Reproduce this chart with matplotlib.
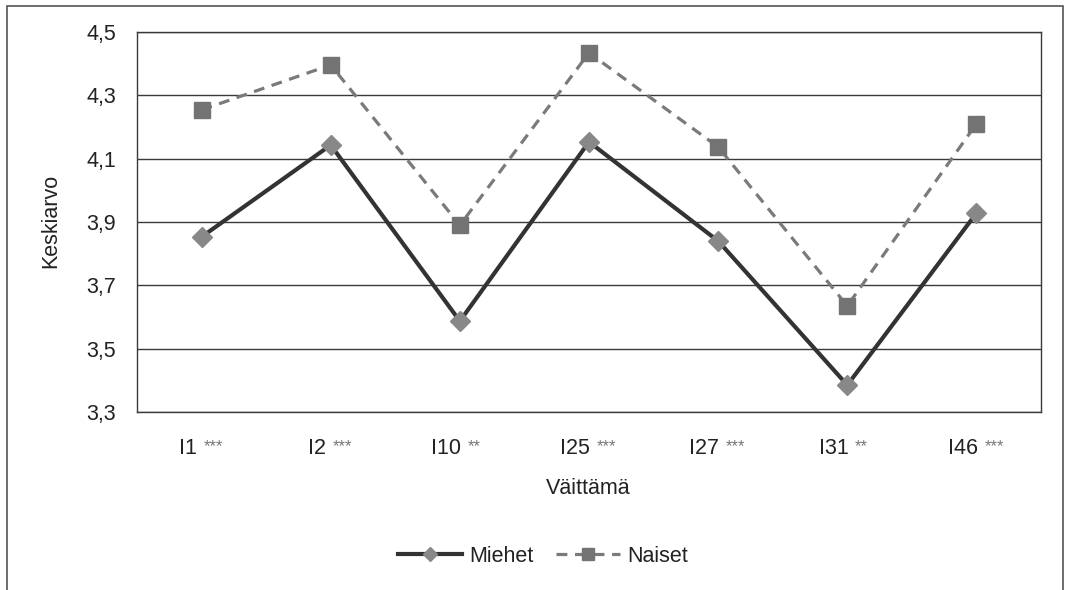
import numpy as np
import matplotlib.pyplot as plt
from matplotlib.patches import Rectangle
from matplotlib.lines import Line2D

plt.rcParams['font.family'] = ['Liberation Sans', 'DejaVu Sans']

# väittämät ja merkitsevyystähdet
vaittamat = ['I1', 'I2', 'I10', 'I25', 'I27', 'I31', 'I46']
tahdet = ['***', '***', '**', '***', '***', '**', '***']

# keskiarvot sukupuolittain
miehet = [3.853, 4.143, 3.587, 4.153, 3.840, 3.385, 3.928]
naiset = [4.254, 4.396, 3.890, 4.434, 4.137, 3.635, 4.210]

yticks = [3.3, 3.5, 3.7, 3.9, 4.1, 4.3, 4.5]

FS = 15.5

fig = plt.figure(figsize=(10.7, 5.9), dpi=100)
W, H = 1070, 590
ax = fig.add_axes([137 / W, 1 - 412 / H, (1041 - 137) / W, (412 - 32) / H])

# ulkokehys
fig.patches.append(Rectangle((7 / W, -0.1), (1063 - 7) / W, 1 - 6 / H + 0.1,
                             transform=fig.transFigure, fill=False,
                             edgecolor='#555555', linewidth=1.2))

x = np.arange(len(vaittamat))
mies_tyyli = dict(color='#333333', lw=3.0, marker='D', mfc='#888888', mec='#888888')
nais_tyyli = dict(color='#7a7a7a', lw=2.3, ls=(0, (3.4, 2.4)), marker='s',
                  mfc='#737373', mec='#737373')
ax.plot(x, miehet, ms=10, zorder=3, **mies_tyyli)
ax.plot(x, naiset, ms=11, zorder=3, **nais_tyyli)

ax.set_xlim(-0.5, len(vaittamat) - 0.5)
ax.set_ylim(3.3, 4.5)
ax.set_yticks(yticks)
ax.set_yticklabels([f'{v:.1f}'.replace('.', ',') for v in yticks], fontsize=FS,
                   color='#222222')
ax.yaxis.grid(True, color='#3a3a3a', lw=1.0)
ax.set_axisbelow(True)
ax.tick_params(axis='y', length=0, pad=15)
ax.tick_params(axis='x', length=0)
for s in ax.spines.values():
    s.set_color('#3a3a3a')
    s.set_linewidth(1.0)

# x-akselin nimet ja tähdet
ax.set_xticks(x)
ax.set_xticklabels([''] * len(x))
for i, (v, t) in enumerate(zip(vaittamat, tahdet)):
    lab = ax.annotate(v, xy=(i, 0), xycoords=('data', 'axes fraction'),
                      xytext=(-10, -26), textcoords='offset points',
                      ha='center', va='center', fontsize=FS, color='#222222')
    ax.annotate(t, xy=(1, 0.92), xycoords=lab, xytext=(5, 0),
                textcoords='offset points', ha='left', va='top',
                fontsize=12, color='#777777')

fig.text(51 / W, 1 - 221 / H, 'Keskiarvo', ha='center', va='center',
         rotation=90, fontsize=FS, color='#222222')
fig.text(588 / W, 1 - 488 / H, 'Väittämä', ha='center', va='center',
         fontsize=FS, color='#222222')

kahvat = [Line2D([], [], ms=7, **mies_tyyli),
          Line2D([], [], ms=9, **nais_tyyli)]
fig.legend(kahvat, ['Miehet', 'Naiset'], loc='center',
           bbox_to_anchor=(543 / W, 1 - 556 / H), ncol=2, frameon=False,
           fontsize=FS, handlelength=3.0, columnspacing=1.0, handletextpad=0.35,
           labelcolor='#222222')

fig.savefig('out.png', dpi=100)
